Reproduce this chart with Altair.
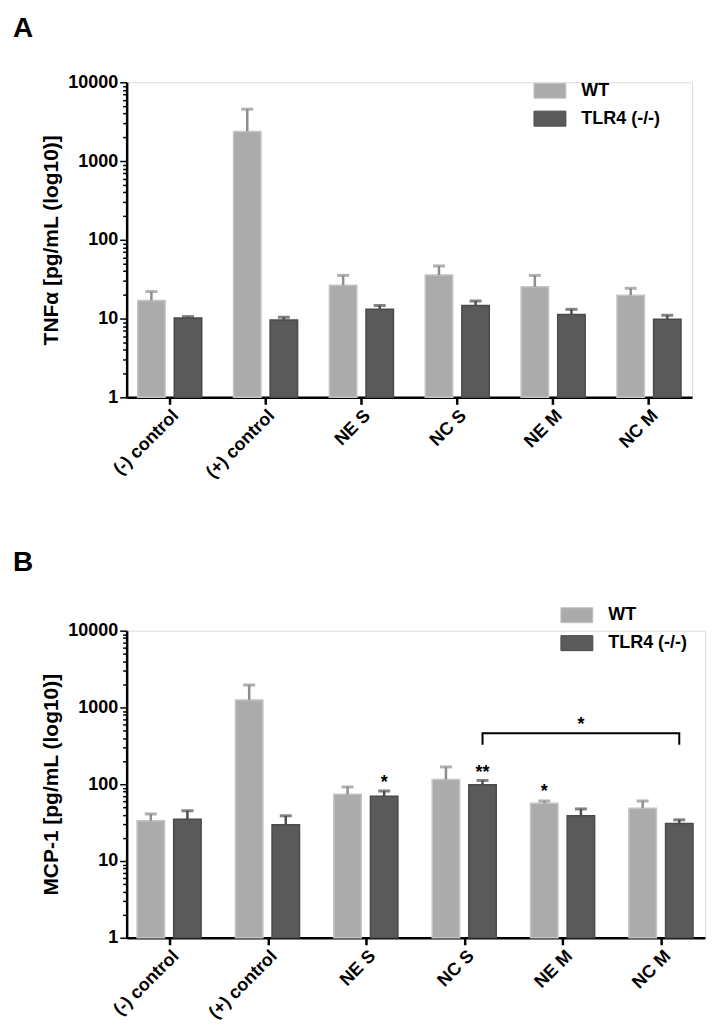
import altair as alt
import pandas as pd

categories = ["(-) control", "(+) control", "NE S", "NC S", "NE M", "NC M"]
groups = ["WT", "TLR4 (-/-)"]

# Panel A: TNF-alpha (bar height and top of error bar)
tnf_wt = [17, 2377, 26.4, 35.7, 25.4, 19.7]
tnf_wt_err = [22, 4550, 35.3, 46.5, 35.3, 24.2]
tnf_ko = [10.2, 9.6, 13.1, 14.7, 11.3, 9.8]
tnf_ko_err = [10.6, 10.4, 14.7, 16.7, 13.1, 11.0]

# Panel B: MCP-1
mcp_wt = [33.4, 1253, 73.8, 115, 56.5, 48.6]
mcp_wt_err = [41, 1960, 92, 168, 60.5, 60.5]
mcp_ko = [35, 29.6, 69.5, 98.5, 39, 30.8]
mcp_ko_err = [45, 38.8, 81.7, 112, 47.7, 34.4]

# significance marks (panel B)
star_cats = ["NE S", "NC S", "NE M", "NE M"]
star_groups = ["TLR4 (-/-)", "TLR4 (-/-)", "WT", "TLR4 (-/-)"]
star_texts = ["*", "**", "*", "*"]
star_vals = [117, 160, 88, 658]

bracket_cats = ["NC S", "NC S", "NC M", "NC M"]
bracket_vals = [327, 460, 460, 327]

y_ticks = sorted(set([m * 10 ** k for k in range(4) for m in range(1, 10)] + [10000]))
MAJOR_TEST = "indexof([1,10,100,1000,10000], datum.value) >= 0"

FONT = "Liberation Sans, Arial, Helvetica"
WT_FILL, KO_FILL = "#ababab", "#5a5a5a"
WT_LINE, KO_LINE = "#c4c4c4", "#4a4a4a"
WT_ERR, KO_ERR = "#8e8e8e", "#4e4e4e"


def panel(letter, ytitle, wt, wt_err, ko, ko_err, width, height, pad_in, pad_out,
          off_pad, legend_x, legend_y, title_offset, stars=False):
    df = pd.DataFrame({
        "cat": categories * 2,
        "grp": [groups[0]] * 6 + [groups[1]] * 6,
        "val": wt + ko,
        "err": wt_err + ko_err,
    })
    x = alt.X("cat:N", sort=categories,
              scale=alt.Scale(paddingInner=pad_in, paddingOuter=pad_out),
              axis=alt.Axis(title=None, labelAngle=-45, labelFont=FONT,
                            labelFontSize=18, labelFontWeight="bold",
                            labelColor="black", tickSize=7, tickWidth=2.5,
                            tickColor="black", domainColor="black",
                            domainWidth=2.5, labelPadding=2))
    xo = alt.XOffset("grp:N", sort=groups,
                     scale=alt.Scale(paddingInner=off_pad, paddingOuter=0))
    ysc = alt.Scale(type="log", domain=[1, 10000], nice=False)
    yax = alt.Axis(values=y_ticks, title=ytitle,
                   labelExpr=MAJOR_TEST + " ? format(datum.value, 'd') : ''",
                   labelOverlap=False, grid=False,
                   tickSize={"condition": {"test": MAJOR_TEST, "value": 7}, "value": 4},
                   tickColor="black", tickWidth=1.5, domainColor="black",
                   domainWidth=2.5, labelFont=FONT, labelFontSize=18,
                   labelFontWeight="bold", labelColor="black", labelPadding=2,
                   titleFont=FONT, titleFontSize=21, titleFontWeight="bold",
                   titleColor="black", titlePadding=6)
    y = alt.Y("val:Q", scale=ysc, axis=yax)

    base = alt.Chart(df)
    bars = base.mark_bar(strokeWidth=1.5).encode(
        x=x, xOffset=xo, y=y, y2=alt.datum(1),
        color=alt.Color("grp:N", sort=groups,
                        scale=alt.Scale(domain=groups, range=[WT_FILL, KO_FILL]),
                        legend=alt.Legend(title=None, orient="none",
                                          legendX=legend_x, legendY=legend_y,
                                          symbolType="M-1,-0.47L1,-0.47L1,0.47L-1,0.47Z",
                                          symbolSize=1024, symbolStrokeWidth=1,
                                          symbolStrokeColor="#808080",
                                          rowPadding=1, padding=0,
                                          labelFont=FONT, labelFontSize=18,
                                          labelFontWeight="bold", labelColor="black",
                                          labelOffset=15)),
        stroke=alt.Stroke("grp:N", sort=groups,
                          scale=alt.Scale(domain=groups, range=[WT_LINE, KO_LINE]),
                          legend=None),
    )
    err_rule = base.mark_rule(strokeWidth=2.5).encode(
        x=x, xOffset=xo, y=alt.Y("val:Q", scale=ysc), y2="err:Q",
        stroke=alt.Stroke("grp:N", sort=groups,
                          scale=alt.Scale(domain=groups, range=[WT_ERR, KO_ERR]),
                          legend=None),
    )
    err_cap = base.mark_tick(orient="horizontal", size=12, thickness=3).encode(
        x=x, xOffset=xo, y=alt.Y("err:Q", scale=ysc),
        color=alt.Color("grp:N", sort=groups,
                        scale=alt.Scale(domain=groups, range=[WT_ERR, KO_ERR]),
                        legend=None),
    )
    layers = [bars, err_rule, err_cap]
    if stars:
        sdf = pd.DataFrame({"cat": star_cats, "grp": star_groups,
                            "txt": star_texts, "val": star_vals})
        layers.append(alt.Chart(sdf).mark_text(fontSize=18, fontWeight="bold",
                                               font=FONT, color="black",
                                               baseline="middle", dy=4).encode(
            x=x, xOffset=xo, y=alt.Y("val:Q", scale=ysc), text="txt:N"))
        bdf = pd.DataFrame({"cat": bracket_cats, "grp": ["TLR4 (-/-)"] * 4,
                            "val": bracket_vals, "ord": [0, 1, 2, 3]})
        layers.append(alt.Chart(bdf).mark_line(color="black", strokeWidth=2).encode(
            x=x, xOffset=xo, y=alt.Y("val:Q", scale=ysc), order="ord:Q"))
    ch = alt.layer(*layers).resolve_scale(color="independent", stroke="independent")
    return ch.properties(
        width=width, height=height,
        title=alt.TitleParams(letter, anchor="start", fontSize=28, fontWeight="bold",
                              font=FONT, color="black", dx=-28, offset=title_offset),
    )


panel_a = panel("A", "TNFα [pg/mL (log10)]", tnf_wt, tnf_wt_err, tnf_ko, tnf_ko_err,
                567, 316, 0.332, 0.115, 0.25, 408, -8, 30)
panel_b = panel("B", "MCP-1 [pg/mL (log10)]", mcp_wt, mcp_wt_err, mcp_ko, mcp_ko_err,
                580, 308, 0.333, 0.106, 0.26, 435, -32, 22, stars=True)

chart = alt.vconcat(panel_a, panel_b, spacing=66).properties(
    padding={"left": 4, "top": 5, "right": 0, "bottom": 0}
).configure_view(stroke=None).configure(background="white")

chart.save("out.html", embed_options={"renderer": "svg", "actions": False})
